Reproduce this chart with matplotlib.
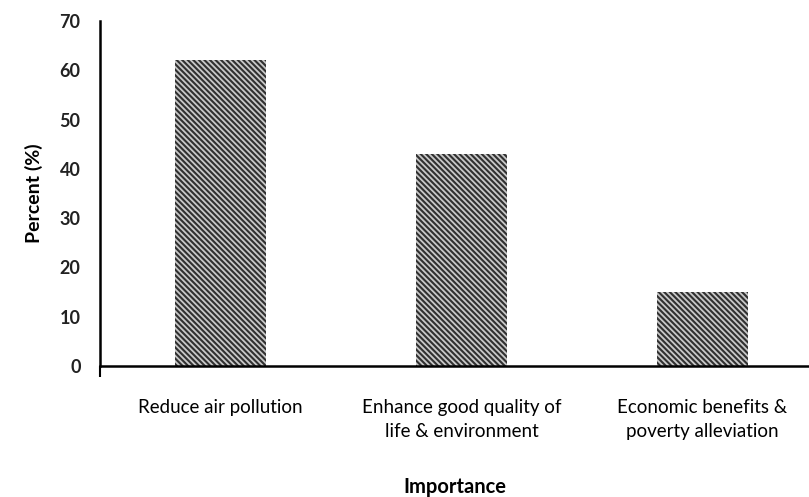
import matplotlib
matplotlib.use("Agg")
import matplotlib.pyplot as plt
import numpy as np

categories = ["Reduce air pollution", "Enhance good quality of\nlife & environment",
              "Economic benefits &\npoverty alleviation"]
values = [62, 43, 15]
yticks = [0, 10, 20, 30, 40, 50, 60, 70]

plt.rcParams['font.family'] = ['Lato', 'DejaVu Sans']
plt.rcParams['hatch.linewidth'] = 1.5

fig = plt.figure(figsize=(8.09, 4.97), dpi=100)
ax = fig.add_axes([100/809, 1-366/497, (809-100)/809, (366-21)/497])

x = np.arange(len(categories))
ax.bar(x, values, width=0.38, color='#c8c8c8', edgecolor='#303030',
       hatch='\\\\\\\\\\\\', linewidth=0)

ax.set_xlim(-0.5, (809-100)/241 - 0.5)
ax.set_ylim(0, 70)
ax.set_yticks(yticks)
ax.set_yticklabels([str(v) for v in yticks], fontsize=13, fontweight='bold', color='#222222')
ax.tick_params(axis='y', length=0, pad=14)
ax.set_yticks([0], minor=True)
ax.tick_params(axis='y', which='minor', length=7, width=1.5, direction='out')

ax.set_xticks(x)
ax.set_xticklabels(categories, fontsize=13.5, linespacing=1.45, va='top')
ax.tick_params(axis='x', length=0, pad=24)
ax.set_xticks([-0.5], minor=True)
ax.tick_params(axis='x', which='minor', length=8, width=1.5, direction='out')

for s in ['top', 'right']:
    ax.spines[s].set_visible(False)
for s in ['left', 'bottom']:
    ax.spines[s].set_linewidth(1.8)

ax.set_ylabel("Percent (%)", fontsize=14, fontweight='bold', labelpad=12)
ax.set_xlabel("Importance", fontsize=14.5, fontweight='bold', labelpad=27)

fig.savefig("out.png", dpi=100)
